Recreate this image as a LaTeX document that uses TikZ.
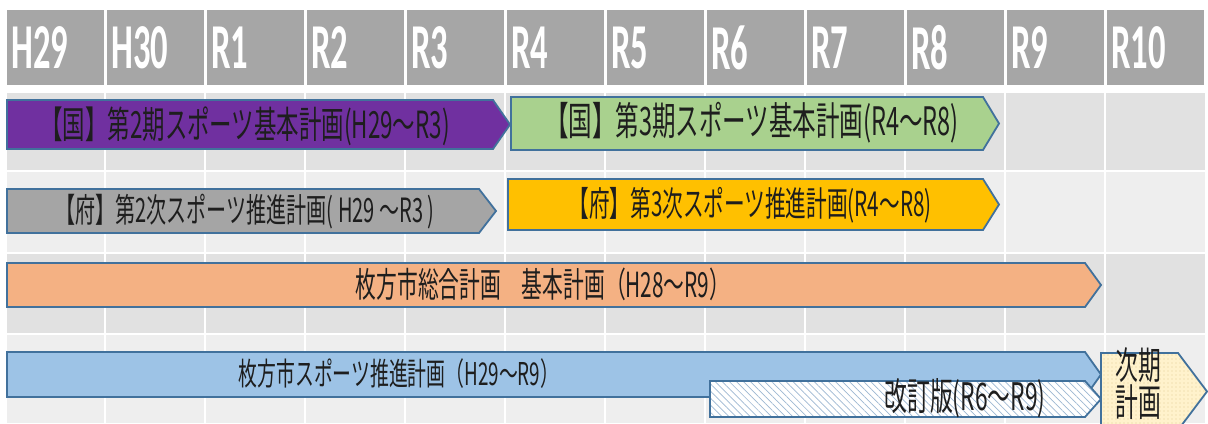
\documentclass[tikz,border=0pt]{standalone}
\usepackage{fontspec}
\setmainfont{Carlito}
\newfontfamily\hdfont[FakeStretch=0.54]{Carlito Bold}
\newfontfamily\jpfont[FakeStretch=0.6]{Noto Sans CJK JP}
\usetikzlibrary{patterns.meta}

\definecolor{hdgray}{HTML}{A6A6A6}
\definecolor{banddark}{HTML}{E1E1E1}
\definecolor{bandlight}{HTML}{EEEEEE}
\definecolor{barline}{HTML}{41719C}
\definecolor{txtdark}{HTML}{1E1E1E}
\definecolor{kunipurple}{HTML}{7030A0}
\definecolor{kunigreen}{HTML}{A9D18E}
\definecolor{fugray}{HTML}{A5A5A5}
\definecolor{fuyellow}{HTML}{FFC000}
\definecolor{cityorange}{HTML}{F4B183}
\definecolor{cityblue}{HTML}{9DC3E6}
\definecolor{hatchblue}{HTML}{9DB8D2}
\definecolor{nextyellow}{HTML}{FFF2CC}
\definecolor{nextdot}{HTML}{E2CF94}

\tikzset{
  yearcell/.style={anchor=north west, fill=hdgray, text=white,
    font=\hdfont\fontsize{32pt}{32pt}\selectfont,
    minimum height=37.5pt, text width=44pt, inner xsep=2.25pt, align=left},
  planbar/.style={draw=barline, line width=0.9pt},
  plantext/.style={text=txtdark, inner sep=0pt}
}

% bar with a pointed right end: style, left x, right x, tip x, top y, bottom y
\newcommand{\planbar}[6]{%
  \draw[planbar,#1] (#2,#5) -- (#3,#5) -- (#4,{(#5+#6)/2}) -- (#3,#6) -- (#2,#6) -- cycle;}

\begin{document}
\begin{tikzpicture}[x=0.5pt,y=-0.5pt]
  \useasboundingbox (0,0) rectangle (1208,423);
  \clip (0,0) rectangle (1208,423);
  \fill[white] (0,0) rectangle (1208,423);

  % year header
  \foreach \yr [count=\i from 0] in {H29,H30,R1,R2,R3,R4,R5,R6,R7,R8,R9,R10}
    \node[yearcell] (y\i) at ({6.5+100*\i},10) {\yr};

  % row bands and grid
  \fill[banddark]  (7,93)  rectangle (1205,170);
  \fill[bandlight] (7,172) rectangle (1205,252);
  \fill[banddark]  (7,254) rectangle (1205,333);
  \fill[bandlight] (7,335) rectangle (1205,423);
  \foreach \i in {1,...,11}
    \draw[white, line width=1pt] ({5+100*\i},85) -- ({5+100*\i},423);

  % national plans
  \planbar{fill=kunipurple}{7}{493}{510}{100}{149}
  \node[plantext, font=\jpfont\fontsize{18.7pt}{18.7pt}\selectfont] (kuni2) at (245,126) {【国】第2期スポーツ基本計画(H29～R3)};
  \planbar{fill=kunigreen}{511}{983}{999}{97}{150}
  \node[plantext, font=\jpfont\fontsize{19.6pt}{19.6pt}\selectfont] (kuni3) at (752,123) {【国】第3期スポーツ基本計画(R4～R8)};

  % prefecture plans
  \planbar{fill=fugray}{7}{479}{496}{189}{233}
  \node[plantext, font=\jpfont\fontsize{16.7pt}{16.7pt}\selectfont] (fu2) at (245,212) {【府】第2次スポーツ推進計画( H29 ～R3 )};
  \planbar{fill=fuyellow}{508}{983}{999}{179}{230}
  \node[plantext, font=\jpfont\fontsize{17.2pt}{17.2pt}\selectfont] (fu3) at (750,205) {【府】第3次スポーツ推進計画(R4～R8)};

  % city plans
  \planbar{fill=cityorange}{7}{1085}{1101}{263}{307}
  \node[plantext, font=\jpfont\fontsize{17.3pt}{17.3pt}\selectfont] (sogo) at (543,284) {枚方市総合計画　基本計画（H28～R9）};
  \planbar{fill=cityblue}{7}{1085}{1101}{352}{397}
  \node[plantext, font=\jpfont\fontsize{15.7pt}{15.7pt}\selectfont] (sports) at (399,374) {枚方市スポーツ推進計画（H29～R9）};
  \planbar{preaction={fill=white}, pattern={Lines[angle=-45,distance=2.5pt,line width=0.35pt]}, pattern color=hatchblue}{710}{1085}{1101}{381}{417}
  \node[plantext, font=\jpfont\fontsize{19pt}{19pt}\selectfont] (kaitei) at (965,398) {改訂版(R6～R9)};
  \planbar{preaction={fill=nextyellow}, pattern={Dots[radius=0.35pt,distance=2pt]}, pattern color=nextdot}{1101}{1178}{1207}{353}{430}
  \node[plantext, align=center, font=\jpfont\fontsize{19pt}{16.5pt}\selectfont] (jiki) at (1138,384) {次期\\計画};
\end{tikzpicture}
\end{document}
